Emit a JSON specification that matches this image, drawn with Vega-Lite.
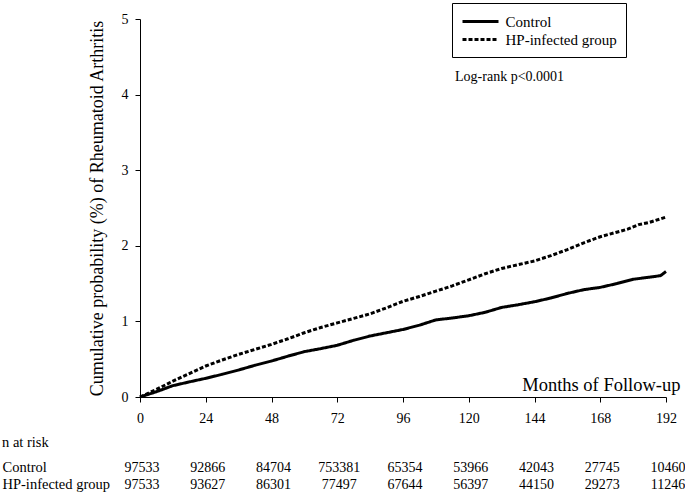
{
  "$schema": "https://vega.github.io/schema/vega-lite/v6.json",
  "background": "white",
  "padding": {"left": 2, "top": 2, "right": 0, "bottom": 0},
  "config": {
    "view": {"stroke": null},
    "font": "Liberation Serif",
    "range": {"strokeDash": [[1, 0], [2.5, 2.5]]},
    "axis": {"labelFont": "Liberation Serif", "titleFont": "Liberation Serif", "labelColor": "black", "titleColor": "black", "domainColor": "black", "tickColor": "black", "grid": false},
    "legend": {"labelFont": "Liberation Serif"},
    "title": {"font": "Liberation Serif"}
  },
  "datasets": {
    "curves": [
      {"month": 0, "prob": 0, "group": "Control"},
      {"month": 6, "prob": 0.07, "group": "Control"},
      {"month": 12, "prob": 0.15, "group": "Control"},
      {"month": 18, "prob": 0.2, "group": "Control"},
      {"month": 24, "prob": 0.247, "group": "Control"},
      {"month": 30, "prob": 0.3, "group": "Control"},
      {"month": 36, "prob": 0.357, "group": "Control"},
      {"month": 42, "prob": 0.42, "group": "Control"},
      {"month": 48, "prob": 0.476, "group": "Control"},
      {"month": 54, "prob": 0.54, "group": "Control"},
      {"month": 60, "prob": 0.6, "group": "Control"},
      {"month": 66, "prob": 0.64, "group": "Control"},
      {"month": 72, "prob": 0.684, "group": "Control"},
      {"month": 78, "prob": 0.75, "group": "Control"},
      {"month": 84, "prob": 0.807, "group": "Control"},
      {"month": 90, "prob": 0.85, "group": "Control"},
      {"month": 96, "prob": 0.893, "group": "Control"},
      {"month": 102, "prob": 0.95, "group": "Control"},
      {"month": 108, "prob": 1.02, "group": "Control"},
      {"month": 114, "prob": 1.045, "group": "Control"},
      {"month": 120, "prob": 1.075, "group": "Control"},
      {"month": 126, "prob": 1.12, "group": "Control"},
      {"month": 132, "prob": 1.185, "group": "Control"},
      {"month": 138, "prob": 1.22, "group": "Control"},
      {"month": 144, "prob": 1.26, "group": "Control"},
      {"month": 150, "prob": 1.31, "group": "Control"},
      {"month": 156, "prob": 1.37, "group": "Control"},
      {"month": 162, "prob": 1.42, "group": "Control"},
      {"month": 168, "prob": 1.45, "group": "Control"},
      {"month": 174, "prob": 1.5, "group": "Control"},
      {"month": 180, "prob": 1.557, "group": "Control"},
      {"month": 186, "prob": 1.585, "group": "Control"},
      {"month": 190, "prob": 1.605, "group": "Control"},
      {"month": 192, "prob": 1.66, "group": "Control"},
      {"month": 0, "prob": 0, "group": "HP-infected group"},
      {"month": 6, "prob": 0.1, "group": "HP-infected group"},
      {"month": 12, "prob": 0.21, "group": "HP-infected group"},
      {"month": 18, "prob": 0.31, "group": "HP-infected group"},
      {"month": 24, "prob": 0.41, "group": "HP-infected group"},
      {"month": 30, "prob": 0.49, "group": "HP-infected group"},
      {"month": 36, "prob": 0.564, "group": "HP-infected group"},
      {"month": 42, "prob": 0.63, "group": "HP-infected group"},
      {"month": 48, "prob": 0.696, "group": "HP-infected group"},
      {"month": 54, "prob": 0.77, "group": "HP-infected group"},
      {"month": 60, "prob": 0.85, "group": "HP-infected group"},
      {"month": 66, "prob": 0.92, "group": "HP-infected group"},
      {"month": 72, "prob": 0.98, "group": "HP-infected group"},
      {"month": 78, "prob": 1.04, "group": "HP-infected group"},
      {"month": 84, "prob": 1.1, "group": "HP-infected group"},
      {"month": 90, "prob": 1.18, "group": "HP-infected group"},
      {"month": 96, "prob": 1.265, "group": "HP-infected group"},
      {"month": 102, "prob": 1.33, "group": "HP-infected group"},
      {"month": 108, "prob": 1.4, "group": "HP-infected group"},
      {"month": 114, "prob": 1.47, "group": "HP-infected group"},
      {"month": 120, "prob": 1.55, "group": "HP-infected group"},
      {"month": 126, "prob": 1.63, "group": "HP-infected group"},
      {"month": 132, "prob": 1.7, "group": "HP-infected group"},
      {"month": 138, "prob": 1.75, "group": "HP-infected group"},
      {"month": 144, "prob": 1.8, "group": "HP-infected group"},
      {"month": 150, "prob": 1.87, "group": "HP-infected group"},
      {"month": 156, "prob": 1.95, "group": "HP-infected group"},
      {"month": 162, "prob": 2.04, "group": "HP-infected group"},
      {"month": 168, "prob": 2.12, "group": "HP-infected group"},
      {"month": 174, "prob": 2.18, "group": "HP-infected group"},
      {"month": 178, "prob": 2.22, "group": "HP-infected group"},
      {"month": 182, "prob": 2.28, "group": "HP-infected group"},
      {"month": 186, "prob": 2.31, "group": "HP-infected group"},
      {"month": 192, "prob": 2.38, "group": "HP-infected group"}
    ],
    "risk": [
      {"month": 0, "group": "Control", "n": "97533"},
      {"month": 24, "group": "Control", "n": "92866"},
      {"month": 48, "group": "Control", "n": "84704"},
      {"month": 72, "group": "Control", "n": "753381"},
      {"month": 96, "group": "Control", "n": "65354"},
      {"month": 120, "group": "Control", "n": "53966"},
      {"month": 144, "group": "Control", "n": "42043"},
      {"month": 168, "group": "Control", "n": "27745"},
      {"month": 192, "group": "Control", "n": "10460"},
      {"month": 0, "group": "HP-infected group", "n": "97533"},
      {"month": 24, "group": "HP-infected group", "n": "93627"},
      {"month": 48, "group": "HP-infected group", "n": "86301"},
      {"month": 72, "group": "HP-infected group", "n": "77497"},
      {"month": 96, "group": "HP-infected group", "n": "67644"},
      {"month": 120, "group": "HP-infected group", "n": "56397"},
      {"month": 144, "group": "HP-infected group", "n": "44150"},
      {"month": 168, "group": "HP-infected group", "n": "29273"},
      {"month": 192, "group": "HP-infected group", "n": "11246"}
    ]
  },
  "spacing": 9,
  "vconcat": [
    {
      "width": 526,
      "height": 378,
      "layer": [
        {
          "data": {"name": "curves"},
          "mark": {"type": "line", "color": "black", "strokeWidth": 3},
          "encoding": {
            "x": {
              "field": "month", "type": "quantitative",
              "scale": {"domain": [0, 192], "nice": false},
              "axis": {"values": [0, 24, 48, 72, 96, 120, 144, 168, 192], "title": "Months of Follow-up", "titleFontSize": 18.5, "titleFontWeight": "normal", "titleAnchor": "end", "titleAlign": "right", "titleX": 540, "titleY": -7, "titleBaseline": "alphabetic", "labelFontSize": 14, "tickSize": 5, "labelPadding": 9, "labelFlush": false}
            },
            "y": {
              "field": "prob", "type": "quantitative",
              "scale": {"domain": [0, 5], "nice": false},
              "axis": {"values": [0, 1, 2, 3, 4, 5], "format": "d", "title": "Cumulative probability (%) of Rheumatoid Arthritis", "titleFontSize": 18, "titleFontWeight": "normal", "titlePadding": 15, "labelFontSize": 14, "tickSize": 5, "labelPadding": 7}
            },
            "strokeDash": {
              "field": "group", "type": "nominal",
              "scale": {"domain": ["Control", "HP-infected group"]},
              "legend": {"title": null, "orient": "none", "legendX": 312, "legendY": -16, "strokeColor": "black", "fillColor": "white", "padding": 9, "symbolType": "M-1,0H3.5", "symbolSize": 256, "symbolStrokeWidth": 3, "symbolStrokeColor": "black", "labelFontSize": 15, "labelColor": "black", "labelOffset": 25.5, "rowPadding": 0}
            }
          }
        },
        {
          "data": {"values": [{"label": "Log-rank p<0.0001"}]},
          "mark": {"type": "text", "align": "left", "baseline": "middle", "fontSize": 14, "color": "black"},
          "encoding": {
            "x": {"datum": 115, "type": "quantitative"},
            "y": {"datum": 4.23, "type": "quantitative"},
            "text": {"field": "label"}
          }
        }
      ]
    },
    {
      "width": 526,
      "height": {"step": 17},
      "data": {"name": "risk"},
      "title": {"text": "n at risk", "anchor": "start", "frame": "bounds", "fontSize": 14.5, "fontWeight": "normal", "color": "black", "offset": 9},
      "mark": {"type": "text", "fontSize": 14, "color": "black", "baseline": "middle", "dx": 2},
      "encoding": {
        "x": {"field": "month", "type": "quantitative", "scale": {"domain": [0, 192], "nice": false}, "axis": null},
        "y": {"field": "group", "type": "nominal", "sort": ["Control", "HP-infected group"], "axis": {"title": null, "domain": false, "ticks": false, "labelAlign": "left", "labelPadding": 138, "labelFontSize": 14.5}},
        "text": {"field": "n"}
      }
    }
  ]
}
